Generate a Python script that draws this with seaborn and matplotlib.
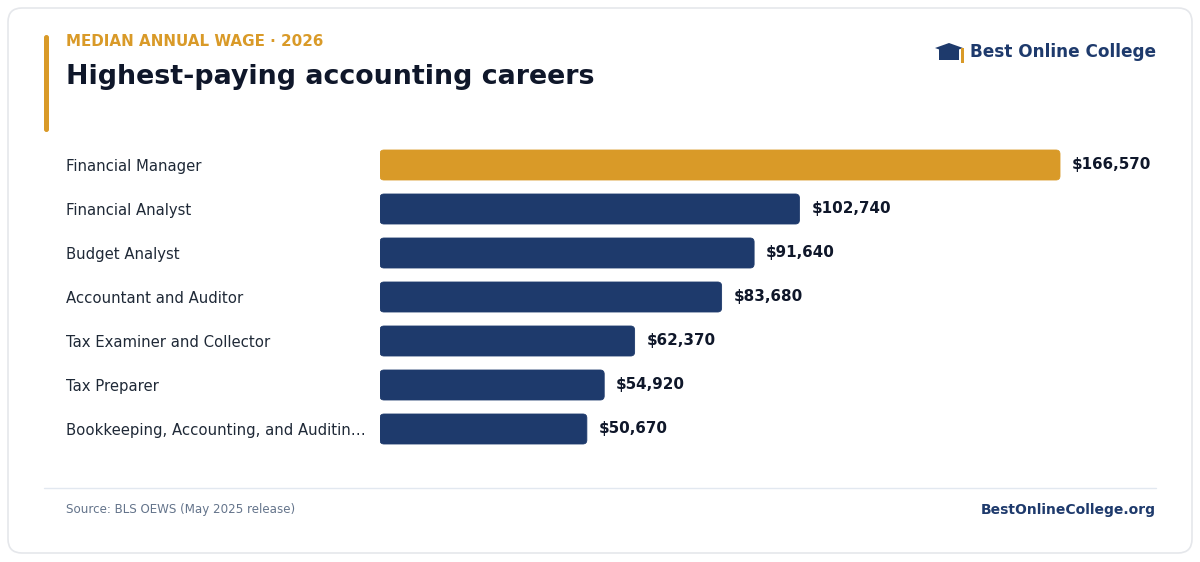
import matplotlib
matplotlib.use("Agg")
import matplotlib.pyplot as plt
from matplotlib.patches import FancyBboxPatch, Polygon, Rectangle
from matplotlib.lines import Line2D
import seaborn as sns
import pandas as pd

categories = [
    "Financial Manager",
    "Financial Analyst",
    "Budget Analyst",
    "Accountant and Auditor",
    "Tax Examiner and Collector",
    "Tax Preparer",
    "Bookkeeping, Accounting, and Auditin\u2026",
]
wages = [166570, 102740, 91640, 83680, 62370, 54920, 50670]
value_labels = ["$166,570", "$102,740", "$91,640", "$83,680", "$62,370", "$54,920", "$50,670"]

ORANGE = "#D99A28"
NAVY = "#1E3A6C"
DARK = "#0F172A"
GRAY = "#64748B"
LINE = "#E2E8F0"

sns.set_theme(style="white")
plt.rcParams["font.family"] = ["DejaVu Sans"]

W, H = 1200, 562
fig = plt.figure(figsize=(W / 100, H / 100), dpi=100)
fig.patch.set_facecolor("white")

def fx(px):
    return px / W

def fy(py):
    return 1 - py / H

# card border
card = FancyBboxPatch((8 / 100, (H - 553) / 100), 1184 / 100, 545 / 100,
                      boxstyle="round,pad=0,rounding_size=0.14",
                      transform=fig.dpi_scale_trans, facecolor="white",
                      edgecolor="#E5E7EB", linewidth=1.2, zorder=-10)
fig.patches.append(card)

# accent bar
acc = FancyBboxPatch((44 / 100, (H - 132) / 100), 5 / 100, 97 / 100,
                     boxstyle="round,pad=0,rounding_size=0.025",
                     transform=fig.dpi_scale_trans, facecolor=ORANGE,
                     edgecolor="none", zorder=1)
fig.patches.append(acc)

# titles
fig.text(fx(66), fy(42), "MEDIAN ANNUAL WAGE \u00b7 2026", color=ORANGE,
         fontsize=10.9, fontweight="bold", va="center", ha="left")
fig.text(fx(66), fy(77), "Highest-paying accounting careers", color=DARK,
         fontsize=19.4, fontweight="bold", va="center", ha="left")

# logo
fig.text(fx(1156), fy(52), "Best Online College", color=NAVY,
         fontsize=12.2, fontweight="bold", va="center", ha="right")
cap = Polygon([[x, H - y] for x, y in [[935, 48], [949, 43], [963, 48], [949, 53]]],
              closed=True, transform=None, facecolor=NAVY, edgecolor="none", zorder=2)
fig.patches.append(cap)
capbase = Rectangle((939, H - 60), 20, 11, transform=None, facecolor=NAVY,
                    edgecolor="none", zorder=2)
fig.patches.append(capbase)
tassel = Rectangle((961, H - 63), 2.5, 15, transform=None, facecolor=ORANGE,
                   edgecolor="none", zorder=2)
fig.patches.append(tassel)

# bar axes
ax_left, ax_right, ax_top, ax_bot = 380, 1156, 143, 451
ax = fig.add_axes([fx(ax_left), fy(ax_bot), fx(ax_right - ax_left), (ax_bot - ax_top) / H])
ax.set_facecolor("none")

df = pd.DataFrame({"career": categories, "wage": wages})
colors = [ORANGE] + [NAVY] * (len(categories) - 1)
sns.barplot(data=df, x="wage", y="career", hue="career", palette=colors,
            legend=False, orient="h", width=30 / 44, ax=ax, saturation=1)

xmax = 166570 * (ax_right - ax_left) / 680
ax.set_xlim(0, xmax)
ax.set_ylim(len(categories) - 0.5, -0.5)

px_per_x = (ax_right - ax_left) / xmax
px_per_y = (ax_bot - ax_top) / len(categories)
r_px = 4
rx = r_px / px_per_x
ry = r_px / px_per_y

for p in list(ax.patches):
    x0, y0 = p.get_x(), p.get_y()
    w, h = p.get_width(), p.get_height()
    fc = p.get_facecolor()
    p.remove()
    fb = FancyBboxPatch((x0, y0), w, h,
                        boxstyle=f"round,pad=0,rounding_size={rx}",
                        mutation_aspect=ry / rx, facecolor=fc,
                        edgecolor=fc, linewidth=0.6, zorder=2)
    ax.add_patch(fb)

for i, (v, lab) in enumerate(zip(wages, value_labels)):
    ax.text(v + 12 / px_per_x, i, lab, va="center", ha="left",
            fontsize=10.9, fontweight="bold", color=DARK)

ax.set_xlabel("")
ax.set_ylabel("")
ax.set_xticks([])
for s in ax.spines.values():
    s.set_visible(False)
ax.tick_params(axis="y", length=0, pad=(ax_left - 66) * 72 / 100, labelsize=10.7,
               labelcolor="#1F2937")
for t in ax.get_yticklabels():
    t.set_ha("left")

# footer
fig.lines.append(Line2D([fx(44), fx(1156)], [fy(488), fy(488)], transform=fig.transFigure,
                        color=LINE, linewidth=1))
fig.text(fx(66), fy(510), "Source: BLS OEWS (May 2025 release)", color=GRAY,
         fontsize=8.6, va="center", ha="left")
fig.text(fx(1156), fy(510), "BestOnlineCollege.org", color=NAVY,
         fontsize=10, fontweight="bold", va="center", ha="right")

fig.savefig("out.png", dpi=100, facecolor="white")
